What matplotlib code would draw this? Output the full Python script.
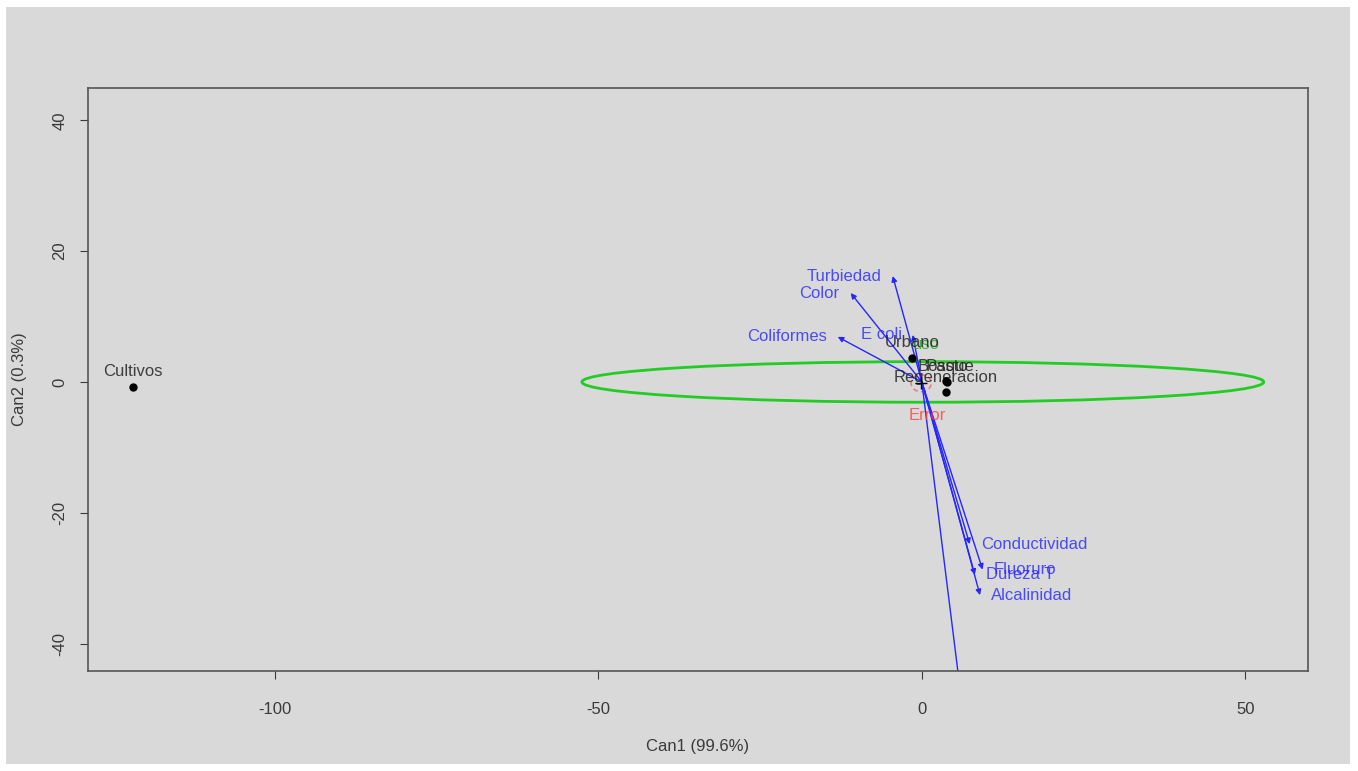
"""Canonical discriminant plot (HE plot style)."""

import matplotlib

matplotlib.use("Agg")
import matplotlib.pyplot as plt
from matplotlib.patches import Ellipse, Rectangle, FancyArrowPatch

# group means on the canonical axes
groups = ["Cultivos", "Urbano", "Bosque", "Pasto", "Regeneracion"]
can1 = [-121.9, -1.5, 3.8, 3.9, 3.7]
can2 = [-0.8, 3.7, 0.1, 0.0, -1.6]

# structure vectors (variable arrows)
variables = ["Turbiedad", "Color", "Coliformes", "E coli", "Conductividad",
             "Fluoruro", "Dureza T", "Alcalinidad", ""]
vec1 = [-4.5, -11.0, -13.0, -1.4, 7.4, 9.4, 8.2, 9.0, 6.3]
vec2 = [16.2, 13.6, 6.9, 7.2, -24.8, -28.7, -29.5, -32.6, -50.0]

# H (term) and E (error) ellipse sizes
term_name = "uso"
h_center = (0.15, 0.0)
h_size = (105.4, 6.2)
e_center = (-0.1, -0.2)
e_size = (3.1, 2.6)

xticks = [-100, -50, 0, 50]
yticks = [-40, -20, 0, 20, 40]

bg = "#d9d9d9"
txt = "#3a3a3a"
blue = "#2626ff"
fs = 12

plt.rcParams["font.family"] = ["Liberation Sans", "DejaVu Sans"]
plt.rcParams["axes.unicode_minus"] = False

fig = plt.figure(figsize=(13.58, 7.71), dpi=100)
fig.patch.set_facecolor("white")
fig.patches.append(Rectangle((6 / 1358, 7 / 771), 1344 / 1358, 757 / 771,
                             transform=fig.transFigure, facecolor=bg,
                             edgecolor="none", zorder=-1))

ax = fig.add_axes([88 / 1358, 1 - 671 / 771, 1220 / 1358, 583 / 771])
ax.set_facecolor(bg)
ax.set_xlim(-128.9, 59.7)
ax.set_ylim(-44.2, 44.95)

# term ellipse and error ellipse
ax.add_patch(Ellipse(h_center, *h_size, fill=False, edgecolor="#22cc22", lw=2))
ax.add_patch(Ellipse(e_center, *e_size, fill=False, edgecolor="#ff4040",
                     lw=1.2, ls=(0, (3, 2)), alpha=0.6))
ax.text(h_center[0] + 0.5, 5.8, term_name, color="#22aa22", fontsize=fs,
        ha="center", va="center", alpha=0.8)
ax.text(e_center[0] + 1.0, -5.1, "Error", color="#ff4040", fontsize=fs,
        ha="center", va="center", alpha=0.8)

# variable arrows
for name, vx, vy in zip(variables, vec1, vec2):
    ax.add_patch(FancyArrowPatch((0, 0), (vx, vy), arrowstyle="-|>",
                                 color=blue, lw=1, mutation_scale=8,
                                 shrinkA=0, shrinkB=0))
    if name:
        off = -8 if vx < 0 else 8
        ax.annotate(name, xy=(vx, vy), xytext=(off, 0),
                    textcoords="offset points", color=blue, alpha=0.8,
                    fontsize=fs, ha="right" if vx < 0 else "left",
                    va="center")

# group means
ax.plot(can1, can2, "o", color="black", ms=5, zorder=5)
ax.plot([e_center[0]], [e_center[1]], "+", color="black", ms=9, mew=1, zorder=5)
for name, x, y in zip(groups, can1, can2):
    ax.annotate(name, xy=(x, y), xytext=(0, 11), textcoords="offset points",
                ha="center", va="center", fontsize=fs, color="#222222",
                alpha=0.85)

ax.set_xticks(xticks)
ax.set_yticks(yticks)
ax.set_yticklabels([str(t) for t in yticks], rotation=90, va="center")
ax.tick_params(colors=txt, labelcolor=txt, labelsize=fs, length=6)
ax.tick_params(axis="x", pad=16)
ax.tick_params(axis="y", pad=9)
ax.set_xlabel("Can1 (99.6%)", color=txt, fontsize=fs, labelpad=16)
ax.set_ylabel("Can2 (0.3%)", color=txt, fontsize=fs, labelpad=18)
for s in ax.spines.values():
    s.set_color("#555555")
    s.set_linewidth(1.2)

fig.savefig("out.png", dpi=100)
plt.close(fig)
